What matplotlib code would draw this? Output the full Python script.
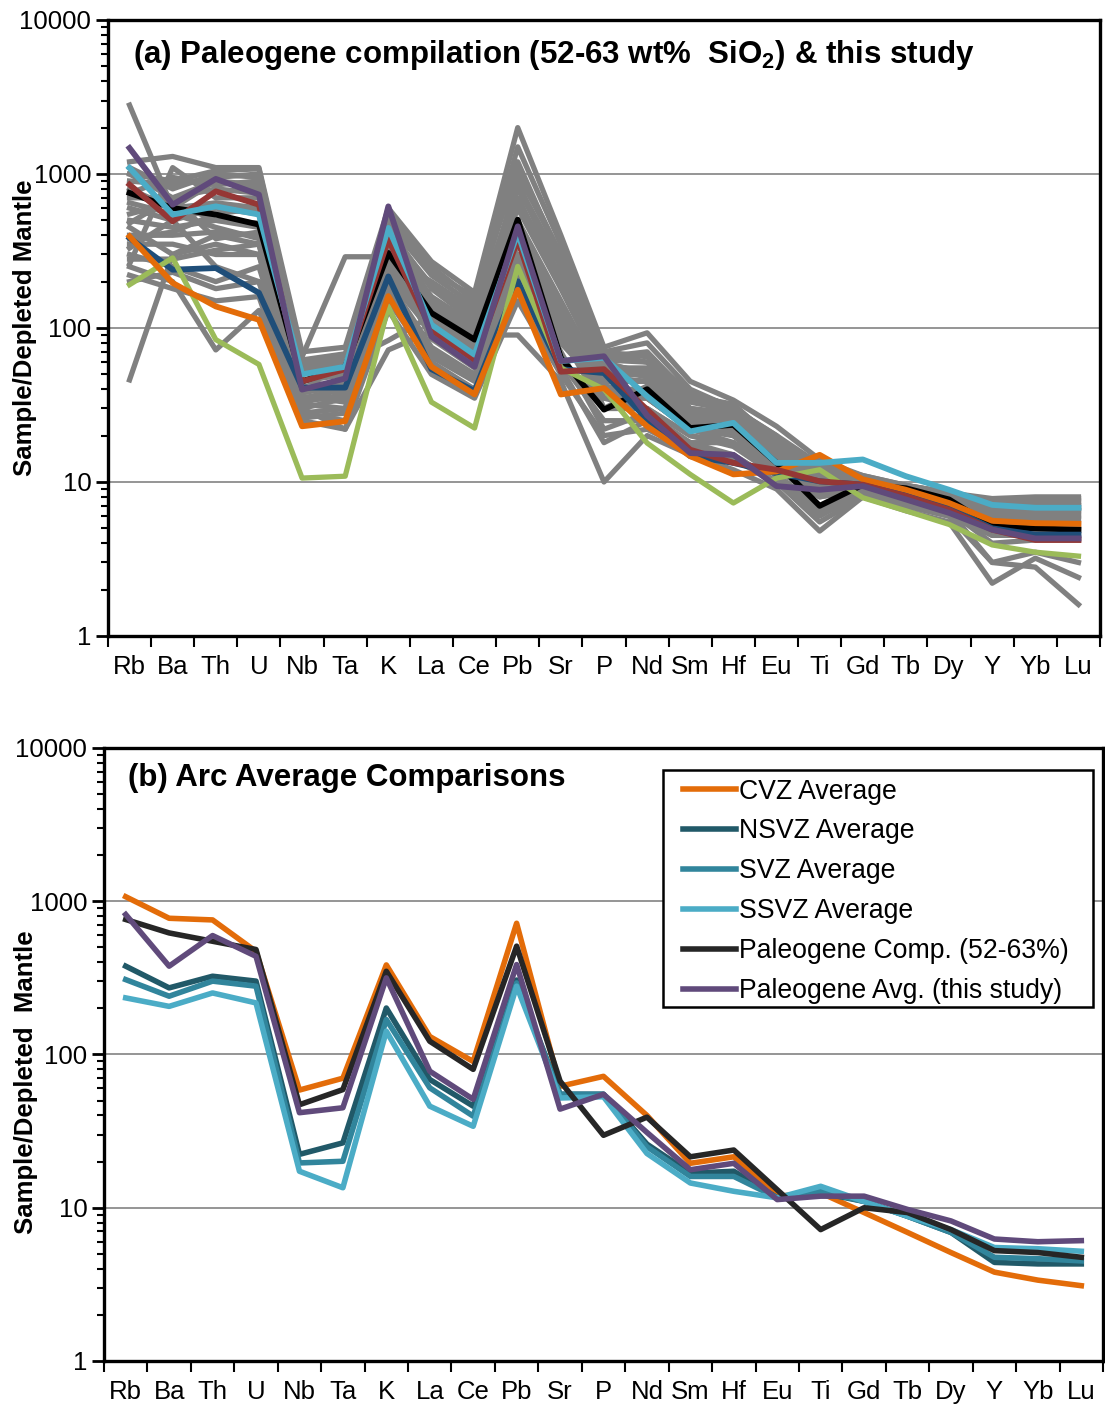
import matplotlib
matplotlib.use("Agg")
import matplotlib.pyplot as plt
import matplotlib.ticker as ticker
from matplotlib.patches import Rectangle
import numpy as np

plt.rcParams['font.family'] = ['Liberation Sans', 'DejaVu Sans']
plt.rcParams['mathtext.fontset'] = 'custom'
plt.rcParams['mathtext.rm'] = 'Liberation Sans'
plt.rcParams['mathtext.bf'] = 'Liberation Sans:bold'

# Elements (x axis)
elements = ['Rb', 'Ba', 'Th', 'U', 'Nb', 'Ta', 'K', 'La', 'Ce', 'Pb', 'Sr', 'P',
            'Nd', 'Sm', 'Hf', 'Eu', 'Ti', 'Gd', 'Tb', 'Dy', 'Y', 'Yb', 'Lu']

# Panel (a): individual Paleogene samples (grey)
grey_samples = [
    [2800, 600, 900, 850, 55, 60, 500, 150, 100, 900, 200, 60, 50, 30, 28, 15, 12, 10, 9, 8, 7.5, 7.5, 7.5],
    [46, 300, 400, 350, 40, 45, 250, 110, 70, 300, 80, 40, 35, 22, 20, 12, 10, 9.5, 8.5, 7.5, 6.5, 6.5, 6.5],
    [1200, 1300, 1100, 1100, 70, 75, 600, 270, 170, 2000, 400, 75, 93, 45, 34, 23, 14, 11, 9.5, 8.5, 7.8, 8, 8],
    [1000, 900, 1050, 1080, 60, 65, 550, 250, 150, 1100, 300, 70, 80, 40, 30, 20, 13, 11, 9.5, 8.5, 7.5, 7.8, 7.8],
    [900, 850, 950, 1000, 65, 290, 290, 200, 130, 800, 250, 65, 70, 36, 32, 18, 12, 10.5, 9, 8, 7, 7, 7],
    [700, 700, 800, 750, 50, 55, 450, 180, 110, 700, 200, 55, 55, 30, 25, 16, 11, 10, 9, 8, 7, 7, 7],
    [600, 500, 600, 550, 45, 50, 400, 150, 100, 600, 180, 50, 50, 28, 24, 14, 10, 10, 8.5, 7.5, 6.5, 6.5, 6.5],
    [500, 450, 500, 450, 40, 45, 350, 130, 90, 500, 150, 45, 45, 26, 22, 13, 9, 9.5, 8.5, 7.5, 6.5, 6.5, 6.5],
    [400, 400, 420, 400, 35, 40, 300, 110, 75, 400, 120, 40, 40, 24, 20, 12, 8, 9, 8, 7, 6, 6, 6],
    [350, 350, 300, 300, 30, 35, 250, 90, 60, 300, 100, 35, 35, 22, 18, 12, 8, 9, 8, 7, 5.5, 5.5, 5.5],
    [300, 250, 200, 250, 32, 30, 200, 75, 50, 250, 90, 30, 30, 20, 17, 11, 7, 8.5, 7.5, 6.5, 5, 5, 5],
    [250, 200, 72, 130, 28, 25, 150, 60, 40, 200, 60, 25, 25, 18, 15, 10, 6, 8.5, 7, 6, 4.5, 4.5, 4.5],
    [220, 180, 150, 160, 25, 22, 130, 50, 35, 150, 50, 20, 22, 16, 14, 10, 5.5, 8, 7, 6, 3, 3.5, 3],
    [260, 1100, 700, 700, 55, 60, 83, 120, 90, 90, 45, 10, 20, 15, 12, 9, 4.8, 8, 6.5, 5.5, 2.2, 3.2, 2.4],
    [800, 600, 650, 600, 30, 22, 72, 95, 60, 350, 110, 35, 30, 20, 18, 11, 7, 9, 7.5, 6.5, 3, 2.8, 1.6],
    [1100, 800, 1000, 950, 58, 62, 480, 220, 140, 1500, 350, 68, 60, 35, 30, 20, 11, 10, 9, 8, 7.5, 7.5, 7.5],
    [650, 550, 450, 380, 38, 42, 320, 140, 95, 450, 140, 30, 42, 25, 24, 14, 9, 9.5, 8, 7, 6, 6, 6],
    [450, 300, 350, 300, 33, 37, 230, 100, 65, 350, 110, 38, 35, 22, 22, 13, 9, 9, 8, 7, 5.5, 5.8, 5.8],
    [330, 500, 250, 200, 42, 38, 280, 85, 55, 280, 100, 48, 45, 28, 26, 16, 10, 9.5, 8.5, 7.5, 6, 6.5, 6.5],
    [550, 650, 500, 480, 36, 33, 180, 70, 48, 220, 70, 22, 28, 18, 18, 11, 6.5, 8.5, 7.5, 6.5, 4, 4.2, 4.2],
    [750, 950, 850, 900, 52, 58, 420, 190, 120, 850, 260, 62, 60, 33, 29, 17, 11, 10, 9, 8, 7.2, 7.2, 7.2],
    [480, 700, 380, 420, 46, 40, 380, 160, 105, 650, 220, 58, 52, 30, 27, 15, 10.5, 10, 9, 8, 6.8, 7, 7],
    [380, 420, 550, 600, 34, 36, 270, 120, 80, 1000, 300, 55, 48, 27, 25, 14, 9.5, 9.5, 8.5, 7.5, 6.2, 6.5, 6.8],
    [280, 280, 320, 350, 28, 30, 210, 95, 62, 380, 130, 42, 38, 24, 21, 13, 8.5, 9, 8, 7, 5.8, 6, 6],
    [1000, 700, 900, 800, 62, 68, 520, 230, 160, 1200, 280, 70, 65, 38, 31, 19, 12.5, 10.5, 9.5, 8.5, 7.6, 7.8, 7.8],
    [200, 230, 180, 200, 26, 28, 160, 65, 45, 180, 55, 18, 25, 17, 15, 10, 6.5, 8.5, 7.5, 6.5, 4.5, 4.8, 4.8],
]

# Panel (a): coloured averages
black_a = [753, 601, 545, 469, 45, 56, 307, 125, 84, 505, 64, 29.5, 40, 22.4, 23.5, 13.3, 7.0, 9.6, 9.1, 7.7, 5.15, 5.0, 4.9]
darkblue_a = [384, 239, 245, 169, 41, 41, 216, 54, 39, 201, 54, 51, 25.4, 14.7, 13.3, 11.4, 10.1, 9.6, 8.2, 6.8, 5.0, 4.55, 4.55]
orange_a = [393, 196, 138, 113, 23, 24.8, 161, 56, 37, 177, 37, 40.7, 23, 14.7, 11.2, 11.7, 15, 10.4, 8.9, 7.3, 5.6, 5.4, 5.35]
green_a = [191, 285, 84, 58, 10.6, 10.9, 138, 33, 22.4, 251, 55, 40, 17.9, 11.2, 7.3, 10.6, 12, 7.9, 6.5, 5.3, 3.9, 3.5, 3.3]
red_a = [853, 493, 771, 632, 45, 54, 375, 97, 62, 375, 52, 54, 29.5, 16.2, 13.3, 12, 10.1, 9.6, 8.1, 6.6, 4.9, 4.2, 4.2]
lightblue_a = [1094, 545, 616, 545, 50, 56, 446, 105, 67, 414, 61, 64, 36, 21.3, 24.2, 13.3, 13.3, 14, 10.9, 8.9, 7.1, 6.8, 6.8]
purple_a = [1474, 632, 929, 735, 39.8, 47, 616, 88, 56, 457, 61, 65.5, 27, 15.4, 15, 9.4, 8.9, 9.4, 7.7, 6.3, 4.9, 4.3, 4.3]

# Panel (b): arc averages
cvz = [1070, 774, 755, 470, 58.6, 70, 384, 131, 90, 718, 62, 72, 40, 19.5, 21.5, 11.9, 12.5, 9.3, 6.9, 5.1, 3.8, 3.37, 3.1]
nsvz = [377, 272, 324, 301, 22.3, 26.5, 201, 68.7, 46, 306, 55, 55, 26, 16.8, 17.3, 11.6, 12.5, 11, 8.8, 6.9, 4.4, 4.3, 4.3]
svz = [308, 240, 301, 279, 19.6, 20.1, 169, 60.6, 39.6, 293, 55, 55, 25, 16, 16, 11.6, 12.8, 11, 8.8, 6.9, 4.75, 4.65, 4.5]
ssvz = [234, 206, 252, 217, 17.3, 13.5, 142, 46, 34, 279, 52, 53, 22.6, 14.5, 12.8, 11.6, 13.8, 11, 8.8, 7.2, 5.5, 5.4, 5.2]
paleo_comp = [760, 621, 548, 484, 47, 59, 349, 122, 80, 509, 67, 29.7, 39, 21.5, 23.8, 13.1, 7.2, 10, 9.3, 7.2, 5.25, 5.1, 4.75]
paleo_avg = [819, 377, 597, 437, 41.7, 44.9, 316, 77.8, 51, 386, 44, 55, 31, 17.7, 19.5, 11.3, 11.9, 11.9, 9.75, 8.2, 6.25, 6.0, 6.1]

x = np.arange(len(elements))

fig = plt.figure(figsize=(11.05, 14.07), dpi=100)
ax_a = fig.add_axes([0.0977, 0.548, 0.8978, 0.4378])
ax_b = fig.add_axes([0.0941, 0.0327, 0.9041, 0.4357])


def style_axis(ax, ylab_x, ylab_y, ylab):
    ax.set_yscale('log')
    ax.set_ylim(1, 10000)
    ax.set_xlim(-0.5, len(elements) - 0.5)
    ax.yaxis.set_major_locator(ticker.LogLocator(base=10, numticks=10))
    ax.yaxis.set_minor_locator(ticker.LogLocator(base=10, subs=np.arange(2, 10), numticks=50))
    ax.yaxis.set_major_formatter(ticker.FuncFormatter(lambda v, p: f'{v:g}'))
    ax.yaxis.set_minor_formatter(ticker.NullFormatter())
    ax.tick_params(axis='y', which='major', length=9, width=2, labelsize=18.5, pad=3)
    ax.tick_params(axis='y', which='minor', length=5, width=1.5)
    ax.set_xticks(x)
    ax.set_xticklabels(elements)
    ax.set_xticks(np.arange(-0.5, len(elements)), minor=True)
    ax.tick_params(axis='x', which='major', length=0, labelsize=18.5, pad=14)
    ax.tick_params(axis='x', which='minor', length=8, width=1.5)
    for s in ax.spines.values():
        s.set_linewidth(2.4)
    ax.grid(True, which='major', axis='y', color='#8c8c8c', linewidth=1.3)
    ax.set_axisbelow(True)
    ax.set_ylabel(ylab, fontsize=18.5, fontweight='bold')
    ax.yaxis.set_label_coords(ylab_x, ylab_y)


# Panel (a)
style_axis(ax_a, -0.072, 0.5, 'Sample/Depleted Mantle')
for row in grey_samples:
    ax_a.plot(x, row, color='#808080', linewidth=3.8, solid_joinstyle='round')
ax_a.plot(x, black_a, color='black', linewidth=4.2)
ax_a.plot(x, darkblue_a, color='#1f4e79', linewidth=4.2)
ax_a.plot(x, green_a, color='#9bbb59', linewidth=3.8)
ax_a.plot(x, orange_a, color='#e36c09', linewidth=4.2)
ax_a.plot(x, red_a, color='#953735', linewidth=4.2)
ax_a.plot(x, lightblue_a, color='#4bacc6', linewidth=4.2)
ax_a.plot(x, purple_a, color='#604a7b', linewidth=4.2)
ax_a.text(0.025, 0.943, r'(a) Paleogene compilation (52-63 wt%  SiO$_\mathbf{2}$) & this study',
          transform=ax_a.transAxes, fontsize=22.5, fontweight='bold', va='center', ha='left')

# Panel (b)
style_axis(ax_b, -0.066, 0.455, 'Sample/Depleted  Mantle')
ax_b.plot(x, cvz, color='#e36c09', linewidth=4.0, label='CVZ Average')
ax_b.plot(x, nsvz, color='#215968', linewidth=4.0, label='NSVZ Average')
ax_b.plot(x, svz, color='#31859c', linewidth=4.0, label='SVZ Average')
ax_b.plot(x, ssvz, color='#4bacc6', linewidth=4.0, label='SSVZ Average')
ax_b.plot(x, paleo_comp, color='#262626', linewidth=4.0, label='Paleogene Comp. (52-63%)')
ax_b.plot(x, paleo_avg, color='#604a7b', linewidth=4.0, label='Paleogene Avg. (this study)')
ax_b.text(0.024, 0.951, '(b) Arc Average Comparisons',
          transform=ax_b.transAxes, fontsize=22.5, fontweight='bold', va='center', ha='left')

# legend box drawn separately so the padding can be wider than tall
ax_b.add_patch(Rectangle((0.5596, 0.5775), 0.4304, 0.3865, transform=ax_b.transAxes,
                         facecolor='white', edgecolor='black', linewidth=1.8, zorder=4.9))
leg = ax_b.legend(loc='upper left', bbox_to_anchor=(0.5796, 0.950), fontsize=19.2,
                  frameon=False, handlelength=2.0, handletextpad=0.1, labelspacing=0.52,
                  borderpad=0, borderaxespad=0)

fig.savefig('out.png', dpi=100)
